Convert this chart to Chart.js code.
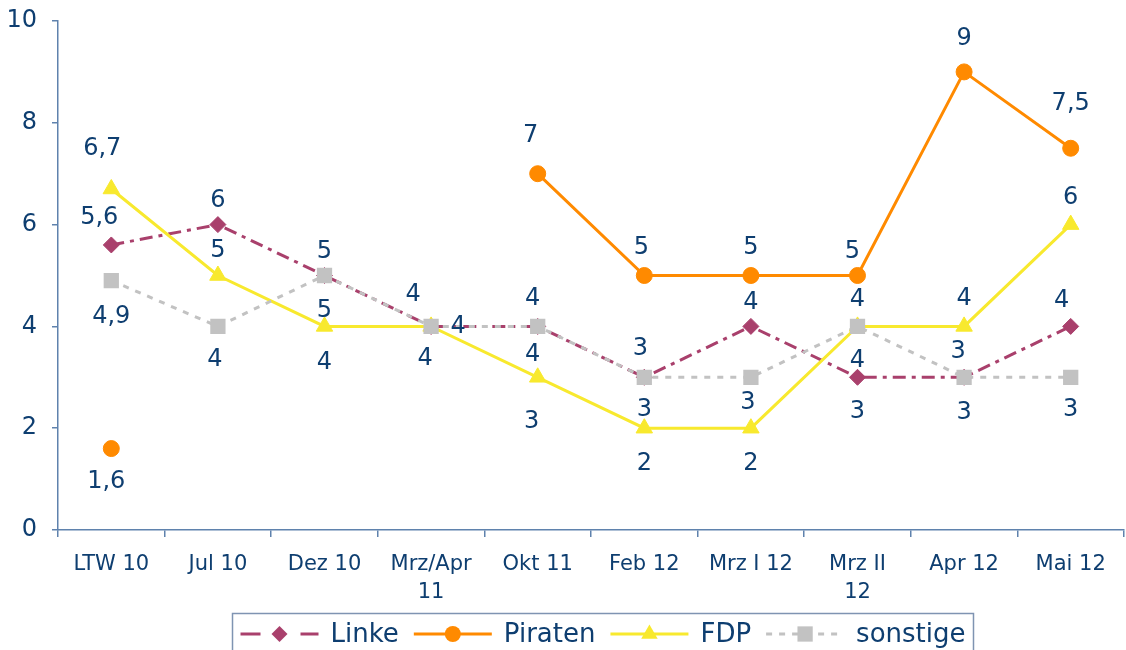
<!DOCTYPE html>
<html>
<head>
<meta charset="utf-8">
<script src="https://cdn.jsdelivr.net/npm/chart.js@4/dist/chart.umd.min.js"></script>
<style>
  html, body { margin: 0; padding: 0; background: #ffffff; }
  #wrap { width: 1126px; height: 650px; position: relative; }
</style>
</head>
<body>
<div id="wrap"><canvas id="c" width="1126" height="650"></canvas></div>
<script>
// ---- data ----
const categories = [['LTW 10'], ['Jul 10'], ['Dez 10'], ['Mrz/Apr', '11'], ['Okt 11'], ['Feb 12'], ['Mrz I 12'], ['Mrz II', '12'], ['Apr 12'], ['Mai 12']];
const linke    = [5.6, 6, 5, 4, 4, 3, 4, 3, 3, 4];
const piraten  = [1.6, null, null, null, 7, 5, 5, 5, 9, 7.5];
const fdp      = [6.7, 5, 4, 4, 3, 2, 2, 4, 4, 6];
const sonstige = [4.9, 4, 5, 4, 4, 3, 3, 4, 3, 3];
const yTicks   = [0, 2, 4, 6, 8, 10];

// ---- styles ----
const FONT = '"DejaVu Sans", Verdana, sans-serif';
const TEXT = '#0e3e70';
const AXIS = '#5f82ad';
const LEGEND_BORDER = '#7f94b2';
const C_LINKE = '#a9406c', C_PIR = '#ff8a00', C_FDP = '#f8e92e', C_SON = '#c2c2c2';

// label offsets (px) relative to each point: [dx, dy]
const offLinke = [[-12,-27],[0,-24],[0,-24],[-18,-32],[-5,-28],[-4,-29],[0,-24],[0,34],[-6,-26],[-9,-26]];
const offPir   = [[-5,33],null,null,null,[-7,-38],[-3,-28],[0,-28],[-5,-24],[0,-33],[0,-44]];
const offFdp   = [[-9,-40],[0,-25],[0,36],[-6,32],[-6,44],[0,36],[0,36],[0,34],[0,-28],[0,-27]];
const offSon   = [[0,36],[-3,33],[0,35],[27,0],[-5,28],[0,32],[-3,25],[0,-27],[0,35],[0,32]];

const fmt = v => String(v).replace('.', ',');

const datasets = [
  { label: 'Linke', data: linke, order: 4, borderColor: C_LINKE, backgroundColor: C_LINKE,
    borderWidth: 3, borderDash: [13, 6, 4, 6], pointStyle: 'rectRot', pointRadius: 8,
    pointBorderWidth: 1, fill: false, tension: 0,
    _off: offLinke, _legendDash: [20, 40], _legendOffset: 0 },
  { label: 'Piraten', data: piraten, order: 3, borderColor: C_PIR, backgroundColor: C_PIR,
    borderWidth: 3, pointStyle: 'circle', pointRadius: 8, pointBorderWidth: 1,
    fill: false, spanGaps: false, tension: 0, _off: offPir, _legendDash: [] },
  { label: 'FDP', data: fdp, order: 2, borderColor: C_FDP, backgroundColor: C_FDP,
    borderWidth: 3, pointStyle: 'triangle', pointRadius: 9.5, pointBorderWidth: 1,
    fill: false, tension: 0, _off: offFdp, _legendDash: [] },
  { label: 'sonstige', data: sonstige, order: 1, borderColor: C_SON, backgroundColor: C_SON,
    borderWidth: 3, borderDash: [6, 7], pointStyle: 'rect', pointRadius: 10.8, pointBorderWidth: 0,
    fill: false, tension: 0, _off: offSon, _legendDash: [6, 7], _legendOffset: 0 }
];

const valueLabels = {
  id: 'valueLabels',
  afterDatasetsDraw(chart) {
    const ctx = chart.ctx;
    ctx.save();
    ctx.font = '24px ' + FONT;
    ctx.fillStyle = TEXT;
    ctx.textAlign = 'center';
    ctx.textBaseline = 'middle';
    chart.data.datasets.forEach((ds, i) => {
      const meta = chart.getDatasetMeta(i);
      meta.data.forEach((el, j) => {
        const v = ds.data[j];
        if (v === null || v === undefined) return;
        const o = ds._off[j] || [0, -30];
        ctx.fillText(fmt(v), el.x + o[0], el.y + o[1]);
      });
    });
    ctx.restore();
  }
};

function marker(ctx, style, r, x, y) {
  ctx.beginPath();
  if (style === 'rectRot') {
    ctx.moveTo(x, y - r); ctx.lineTo(x + r, y); ctx.lineTo(x, y + r); ctx.lineTo(x - r, y); ctx.closePath();
  } else if (style === 'circle') {
    ctx.arc(x, y, r, 0, Math.PI * 2);
  } else if (style === 'triangle') {
    const h = r * Math.sqrt(3) / 2;
    ctx.moveTo(x, y - r); ctx.lineTo(x + h, y + r / 2); ctx.lineTo(x - h, y + r / 2); ctx.closePath();
  } else {
    const s = r * Math.SQRT1_2;
    ctx.rect(x - s, y - s, 2 * s, 2 * s);
  }
  ctx.fill();
}

const boxLegend = {
  id: 'boxLegend',
  afterDraw(chart) {
    const ctx = chart.ctx;
    ctx.save();
    ctx.font = '26px ' + FONT;
    const sample = 78, gap = 12, itemGap = 15, pad = 8;
    const items = chart.data.datasets.map(ds => ({ ds, w: ctx.measureText(ds.label).width }));
    const total = items.reduce((s, it) => s + sample + gap + it.w, 0) + itemGap * (items.length - 1);
    let x = 603 - total / 2;
    const cy = 634;
    ctx.strokeStyle = LEGEND_BORDER;
    ctx.lineWidth = 1.5;
    ctx.strokeRect(x - pad, 613.5, total + 2 * pad, 60);
    items.forEach(it => {
      const ds = it.ds;
      ctx.strokeStyle = ds.borderColor;
      ctx.lineWidth = ds.borderWidth;
      ctx.setLineDash(ds._legendDash);
      ctx.lineDashOffset = ds._legendOffset || 0;
      ctx.beginPath();
      ctx.moveTo(x, cy); ctx.lineTo(x + sample, cy);
      ctx.stroke();
      ctx.setLineDash([]);
      ctx.fillStyle = ds.backgroundColor;
      marker(ctx, ds.pointStyle, ds.pointRadius, x + sample / 2, cy);
      ctx.fillStyle = TEXT;
      ctx.textAlign = 'left';
      ctx.textBaseline = 'middle';
      ctx.fillText(ds.label, x + sample + gap, cy + 1);
      x += sample + gap + it.w + itemGap;
    });
    ctx.restore();
  }
};

const noPad = () => ({ left: 0, top: 0, right: 0, bottom: 0 });

new Chart(document.getElementById('c'), {
  type: 'line',
  data: { labels: categories, datasets },
  plugins: [valueLabels, boxLegend],
  options: {
    responsive: false,
    animation: false,
    layout: { autoPadding: false, padding: { left: 0, right: 2, top: 21, bottom: 37 } },
    plugins: { legend: { display: false }, tooltip: { enabled: false } },
    scales: {
      x: {
        offset: true,
        grid: { offset: true, drawOnChartArea: false, drawTicks: true, tickLength: 7, color: AXIS, lineWidth: 1.5 },
        border: { color: AXIS, width: 1.5 },
        ticks: { color: TEXT, font: { size: 21, family: FONT, lineHeight: 1.35 }, padding: 13, maxRotation: 0, autoSkip: false },
        afterFit: s => { s.height = 83; s.paddingLeft = 0; s.paddingRight = 0; s.getPadding = noPad; }
      },
      y: {
        min: 0, max: 10,
        afterBuildTicks: s => { s.ticks = yTicks.map(v => ({ value: v })); },
        grid: { drawOnChartArea: false, drawTicks: true, tickLength: 6, color: AXIS, lineWidth: 1.5 },
        border: { color: AXIS, width: 1.5 },
        ticks: { color: TEXT, font: { size: 24, family: FONT }, padding: 15 },
        afterFit: s => { s.width = 58; s.paddingTop = 0; s.paddingBottom = 0; s.getPadding = noPad; }
      }
    }
  }
});
</script>
</body>
</html>
